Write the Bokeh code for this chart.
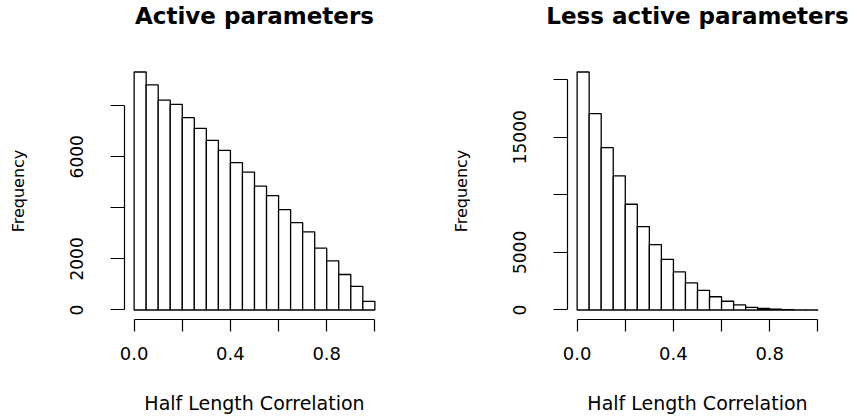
from bokeh.plotting import figure
from bokeh.layouts import row
from bokeh.models import FixedTicker, ColumnDataSource, Title
from bokeh.embed import file_html
from bokeh.resources import INLINE

# Histogram bins (width 0.05 over [0, 1])
bin_edges = [round(i * 0.05, 2) for i in range(21)]

# Counts per bin
active_counts = [9320, 8820, 8220, 8050, 7530, 7110, 6640, 6250, 5770, 5400,
                 4850, 4480, 3930, 3420, 3060, 2420, 1920, 1390, 925, 340]
less_active_counts = [20660, 17040, 14090, 11650, 9180, 7240, 5680, 4400, 3300, 2350,
                      1700, 1150, 760, 440, 230, 130, 75, 35, 15, 5]

# Axis ticks and their labels (crowded labels are left blank)
x_ticks = [0.0, 0.2, 0.4, 0.6, 0.8, 1.0]
x_tick_labels = ["0.0", "", "0.4", "", "0.8", ""]
active_y_ticks = [0, 2000, 4000, 6000, 8000]
active_y_tick_labels = ["0", "2000", "", "6000", ""]
less_y_ticks = [0, 5000, 10000, 15000, 20000]
less_y_tick_labels = ["0", "5000", "", "15000", ""]

titles = ["Active parameters", "Less active parameters"]
x_label = "Half Length Correlation"
y_label = "Frequency"

FONT = "DejaVu Sans"


def histogram(title, counts, y_ticks, y_tick_labels, border_left, border_right):
    top = max(counts)
    pad = 0.04
    p = figure(
        output_backend="svg", toolbar_location=None,
        frame_width=260, frame_height=257,
        min_border_left=border_left, min_border_right=border_right,
        min_border_top=62, min_border_bottom=97,
        x_range=(-pad, 1 + pad),
        y_range=(-pad * top, top * (1 + pad)),
        title=title,
    )
    src = ColumnDataSource(dict(left=bin_edges[:-1], right=bin_edges[1:],
                                top=counts, bottom=[0] * len(counts)))
    p.quad(left="left", right="right", top="top", bottom="bottom", source=src,
           fill_color="white", line_color="black", line_width=1.3)

    # thin blank row between the title and the plotting region
    p.add_layout(Title(text=" ", text_font_size="1px", standoff=28), "above")

    p.title.text_font = FONT
    p.title.text_font_size = "23px"
    p.title.text_font_style = "bold"
    p.title.text_color = "black"
    p.title.align = "center"
    p.title.vertical_align = "top"
    p.title.standoff = 2

    p.xgrid.visible = False
    p.ygrid.visible = False
    p.outline_line_color = None
    p.background_fill_color = "white"
    p.border_fill_color = "white"

    xa = p.xaxis[0]
    xa.ticker = FixedTicker(ticks=x_ticks)
    xa.major_label_overrides = {t: l for t, l in zip(x_ticks, x_tick_labels)}
    xa.bounds = (x_ticks[0], x_ticks[-1])
    xa.axis_label = x_label

    ya = p.yaxis[0]
    ya.ticker = FixedTicker(ticks=y_ticks)
    ya.major_label_overrides = {t: l for t, l in zip(y_ticks, y_tick_labels)}
    ya.bounds = (y_ticks[0], y_ticks[-1])
    ya.axis_label = y_label
    ya.major_label_orientation = "parallel"

    for ax in (xa, ya):
        ax.axis_line_color = "black"
        ax.axis_line_width = 1.2
        ax.major_tick_line_color = "black"
        ax.major_tick_line_width = 1.2
        ax.major_tick_in = 0
        ax.minor_tick_line_color = None
        ax.major_label_text_font = FONT
        ax.major_label_text_color = "black"
        ax.axis_label_text_font = FONT
        ax.axis_label_text_font_style = "normal"
        ax.axis_label_text_color = "black"

    xa.major_tick_out = 12
    xa.major_label_text_font_size = "18px"
    xa.major_label_standoff = 15
    xa.axis_label_text_font_size = "19px"
    xa.axis_label_standoff = 29

    ya.major_tick_out = 14
    ya.major_label_text_font_size = "17px"
    ya.major_label_standoff = 27
    ya.axis_label_text_font_size = "16px"
    ya.axis_label_standoff = 40
    return p


left = histogram(titles[0], active_counts, active_y_ticks, active_y_tick_labels, 124, 44)
right = histogram(titles[1], less_active_counts, less_y_ticks, less_y_tick_labels, 139, 30)

layout = row(left, right)
open("out.html", "w").write(file_html(layout, INLINE))
